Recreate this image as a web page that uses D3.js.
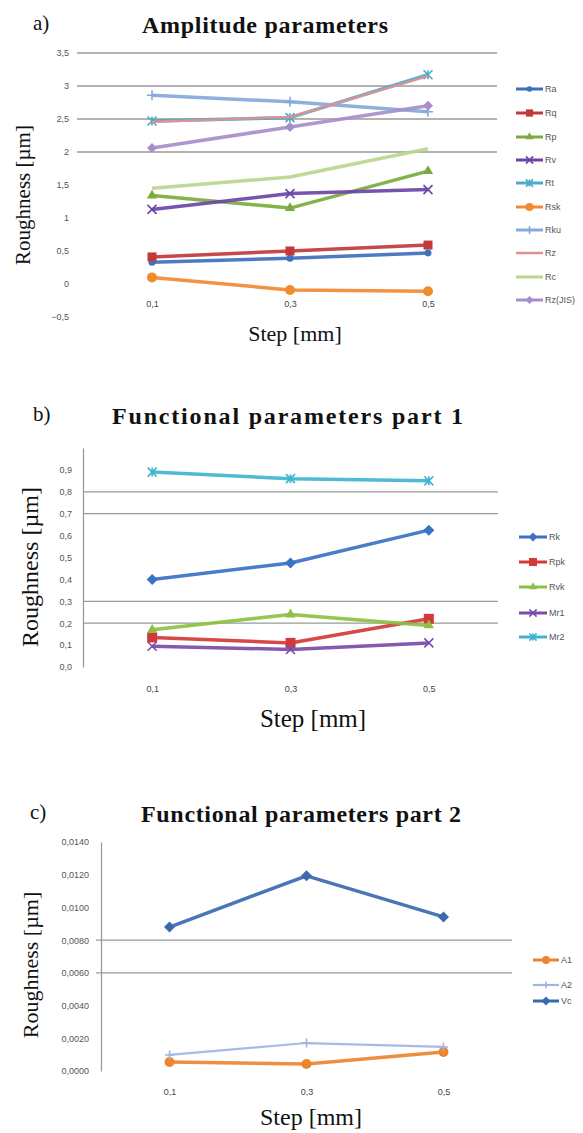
<!DOCTYPE html>
<html>
<head>
<meta charset="utf-8">
<script src="https://cdn.jsdelivr.net/npm/d3@7/dist/d3.min.js"></script>
<style>
  body { margin: 0; background: #fff; }
  svg { display: block; }
</style>
</head>
<body>
<div id="chart"></div>
<script>
// step categories shared by all three panels
var steps = ['0,1', '0,3', '0,5'];

// a) amplitude parameters
var aTicks = [-0.5, 0, 0.5, 1, 1.5, 2, 2.5, 3, 3.5];
var aGrid = [2, 2.5, 3, 3.5];
var Ra = [0.33, 0.39, 0.47];
var Rq = [0.41, 0.50, 0.59];
var Rp = [1.34, 1.15, 1.71];
var Rv = [1.13, 1.37, 1.43];
var Rt = [2.47, 2.52, 3.17];
var Rsk = [0.10, -0.09, -0.11];
var Rku = [2.86, 2.76, 2.61];
var Rz = [2.46, 2.53, 3.15];
var Rc = [1.45, 1.62, 2.05];
var RzJIS = [2.06, 2.38, 2.70];

// b) functional parameters part 1
var bTicks = [0, 0.1, 0.2, 0.3, 0.4, 0.5, 0.6, 0.7, 0.8, 0.9];
var bGrid = [0.2, 0.3, 0.7, 0.8];
var Rk = [0.40, 0.475, 0.625];
var Rpk = [0.135, 0.11, 0.22];
var Rvk = [0.17, 0.24, 0.19];
var Mr1 = [0.095, 0.08, 0.11];
var Mr2 = [0.89, 0.86, 0.85];

// c) functional parameters part 2
var cTicks = [0, 0.002, 0.004, 0.006, 0.008, 0.010, 0.012, 0.014];
var cGrid = [0.006, 0.008];
var A1 = [0.00055, 0.00043, 0.00116];
var A2 = [0.00098, 0.00171, 0.00147];
var Vc = [0.0088, 0.01193, 0.00942];

var svg = d3.select('#chart').append('svg')
    .attr('width', 583)
    .attr('height', 1133);

var comma = function(f) { return function(v) { return f(v).replace('.', ','); }; };

var panels = [
  {
    letter: 'a)', letterX: 33, title: 'Amplitude parameters', titleX: 142, titleW: 246, titleY: 33,
    xRange: [83, 497], yDomain: [-0.5, 3.5], yRange: [317, 53],
    ticks: aTicks, grid: aGrid, gridX: [77, 497], fmt: comma(d3.format('')),
    axisX: 77, axisLine: false, tickPad: 8, xLabelY: 305,
    stepX: 295, stepY: 341, stepSize: 22,
    yTitleX: 23, yTitleY: 195, yTitleSize: 21,
    legX: [516, 543], legY: [89, 113, 137, 160, 183, 207, 230, 253, 277, 300],
    series: [
      {name: 'Ra', v: Ra, c: '#3f6fbf', m: 'circle', s: 7, w: 3.5},
      {name: 'Rq', v: Rq, c: '#c0393b', m: 'square', s: 9, w: 3.5},
      {name: 'Rp', v: Rp, c: '#7aab3c', m: 'triangle', s: 10, w: 3.5},
      {name: 'Rv', v: Rv, c: '#6b45a6', m: 'x', s: 9, w: 3.5},
      {name: 'Rt', v: Rt, c: '#4bacc6', m: 'star', s: 9, w: 3.5},
      {name: 'Rsk', v: Rsk, c: '#f28a30', m: 'circle', s: 10, w: 3.5},
      {name: 'Rku', v: Rku, c: '#86a8dc', m: 'plus', s: 10, w: 3.5},
      {name: 'Rz', v: Rz, c: '#e48f92', m: 'none', s: 0, w: 2.5},
      {name: 'Rc', v: Rc, c: '#bcd68e', m: 'none', s: 0, w: 3.5},
      {name: 'Rz(JIS)', v: RzJIS, c: '#a58fc9', m: 'diamond', s: 10, w: 3.5}
    ]
  },
  {
    letter: 'b)', letterX: 33, title: 'Functional parameters part 1', titleX: 112, titleW: 351, titleY: 424,
    xRange: [83, 498], yDomain: [0, 1], yRange: [667, 448],
    ticks: bTicks, grid: bGrid, gridX: [83, 498], fmt: comma(d3.format('.1f')),
    axisX: 83, axisLine: true, tickPad: 11, xLabelY: 690,
    stepX: 313, stepY: 727, stepSize: 25,
    yTitleX: 30, yTitleY: 567, yTitleSize: 24,
    legX: [519, 547], legY: [537, 562, 587, 613, 637],
    series: [
      {name: 'Rk', v: Rk, c: '#3a72c4', m: 'diamond', s: 11, w: 3.5},
      {name: 'Rpk', v: Rpk, c: '#d23a3a', m: 'square', s: 10, w: 3.5},
      {name: 'Rvk', v: Rvk, c: '#8dc042', m: 'triangle', s: 10, w: 3.5},
      {name: 'Mr1', v: Mr1, c: '#7a4ca8', m: 'x', s: 9, w: 3.5},
      {name: 'Mr2', v: Mr2, c: '#3fb4d0', m: 'star', s: 9, w: 3.5}
    ]
  },
  {
    letter: 'c)', letterX: 30, title: 'Functional parameters part 2', titleX: 141, titleW: 320, titleY: 822,
    xRange: [101, 512], yDomain: [0, 0.014], yRange: [1071, 842],
    ticks: cTicks, grid: cGrid, gridX: [96, 512], fmt: comma(d3.format('.4f')),
    axisX: 101, axisLine: true, tickPad: 12, xLabelY: 1093,
    stepX: 311, stepY: 1125, stepSize: 24,
    yTitleX: 30, yTitleY: 965, yTitleSize: 22,
    legX: [533, 559], legY: [960, 985, 1001],
    series: [
      {name: 'A1', v: A1, c: '#ec8430', m: 'circle', s: 10, w: 3.5},
      {name: 'A2', v: A2, c: '#9fb5e2', m: 'plus', s: 9, w: 2.2},
      {name: 'Vc', v: Vc, c: '#3a6aae', m: 'diamond', s: 11, w: 3.5}
    ]
  }
];

function marker(g, type, color, size) {
  var h = size / 2;
  if (type === 'circle') {
    g.append('circle').attr('r', h).attr('fill', color);
  } else if (type === 'square') {
    g.append('rect').attr('x', -h).attr('y', -h).attr('width', size).attr('height', size).attr('fill', color);
  } else if (type === 'triangle') {
    g.append('path').attr('d', d3.symbol(d3.symbolTriangle, size * size * 0.45)()).attr('fill', color);
  } else if (type === 'diamond') {
    g.append('path').attr('d', 'M0,' + -h + 'L' + h + ',0L0,' + h + 'L' + -h + ',0Z').attr('fill', color);
  } else if (type === 'x') {
    g.append('path').attr('d', 'M' + -h + ',' + -h + 'L' + h + ',' + h + 'M' + -h + ',' + h + 'L' + h + ',' + -h)
      .attr('stroke', color).attr('stroke-width', 1.6).attr('fill', 'none');
  } else if (type === 'star') {
    g.append('path').attr('d', 'M' + -h + ',' + -h + 'L' + h + ',' + h + 'M' + -h + ',' + h + 'L' + h + ',' + -h + 'M0,' + -h + 'V' + h)
      .attr('stroke', color).attr('stroke-width', 1.6).attr('fill', 'none');
  } else if (type === 'plus') {
    g.append('path').attr('d', 'M' + -h + ',0H' + h + 'M0,' + -h + 'V' + h)
      .attr('stroke', color).attr('stroke-width', 1.6).attr('fill', 'none');
  }
}

panels.forEach(function(p) {
  var x = d3.scalePoint().domain(steps).range(p.xRange).padding(0.5);
  var y = d3.scaleLinear().domain(p.yDomain).range(p.yRange);
  var g = svg.append('g');

  // letter + title
  g.append('text').attr('x', p.letterX).attr('y', p.titleY - 3)
    .style('font', '21px "Liberation Serif"').attr('fill', '#111').text(p.letter);
  g.append('text').attr('x', p.titleX).attr('y', p.titleY)
    .attr('textLength', p.titleW).attr('lengthAdjust', 'spacing')
    .style('font', 'bold 24px "Liberation Serif"').attr('fill', '#111').text(p.title);

  // gridlines
  g.selectAll('.grid').data(p.grid).enter().append('line')
    .attr('x1', p.gridX[0]).attr('x2', p.gridX[1])
    .attr('y1', function(d) { return y(d); }).attr('y2', function(d) { return y(d); })
    .attr('stroke', '#9a9a9a').attr('stroke-width', 1.3);

  // y axis
  var ya = g.append('g').attr('transform', 'translate(' + p.axisX + ',0)')
    .call(d3.axisLeft(y).tickValues(p.ticks).tickFormat(p.fmt).tickSize(0).tickPadding(p.tickPad));
  ya.selectAll('text').style('font', '9px "Liberation Sans"').attr('fill', '#555');
  if (p.axisLine) {
    ya.select('.domain').attr('stroke', '#9a9a9a').attr('stroke-width', 1.3);
  } else {
    ya.select('.domain').remove();
  }

  // x axis
  var xa = g.append('g').attr('transform', 'translate(0,' + (p.xLabelY - 4.5) + ')')
    .call(d3.axisBottom(x).tickSize(0).tickPadding(0));
  xa.select('.domain').remove();
  xa.selectAll('text').style('font', '9px "Liberation Sans"').attr('fill', '#444');

  // axis titles
  g.append('text').attr('x', p.stepX).attr('y', p.stepY).attr('text-anchor', 'middle')
    .style('font', p.stepSize + 'px "Liberation Serif"').attr('fill', '#111').text('Step [mm]');
  g.append('text').attr('text-anchor', 'middle').attr('dominant-baseline', 'central')
    .attr('transform', 'translate(' + p.yTitleX + ',' + p.yTitleY + ') rotate(-90)')
    .style('font', p.yTitleSize + 'px "Liberation Serif"').attr('fill', '#111').text('Roughness [µm]');

  // series lines and markers
  var line = d3.line().x(function(d, i) { return x(steps[i]); }).y(function(d) { return y(d); });
  p.series.forEach(function(s) {
    g.append('path').datum(s.v).attr('d', line)
      .attr('fill', 'none').attr('stroke', s.c).attr('stroke-width', s.w)
      .attr('stroke-linejoin', 'round').attr('opacity', 0.92);
    s.v.forEach(function(v, i) {
      var mg = g.append('g').attr('transform', 'translate(' + x(steps[i]) + ',' + y(v) + ')');
      marker(mg, s.m, s.c, s.s);
    });
  });

  // legend
  p.series.forEach(function(s, i) {
    var ly = p.legY[i];
    var lg = g.append('g');
    lg.append('line').attr('x1', p.legX[0]).attr('x2', p.legX[1]).attr('y1', ly).attr('y2', ly)
      .attr('stroke', s.c).attr('stroke-width', Math.min(s.w, 3));
    var mg = lg.append('g').attr('transform', 'translate(' + (p.legX[0] + p.legX[1]) / 2 + ',' + ly + ')');
    marker(mg, s.m, s.c, s.s * 0.8);
    lg.append('text').attr('x', p.legX[1] + 2).attr('y', ly).attr('dy', '0.32em')
      .style('font', '9px "Liberation Sans"').attr('fill', '#555').text(s.name);
  });
});
</script>
</body>
</html>
